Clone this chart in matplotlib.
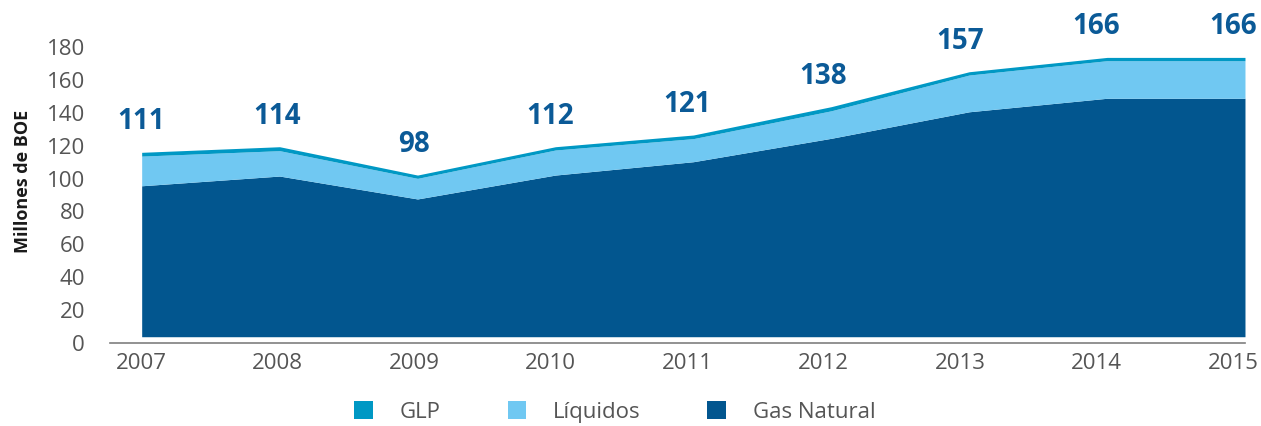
import matplotlib
matplotlib.use("Agg")
import matplotlib.pyplot as plt
from matplotlib.patches import Patch
import numpy as np

plt.rcParams['font.family'] = ['Open Sans', 'DejaVu Sans']

# ---- data ----
years = [2007, 2008, 2009, 2010, 2011, 2012, 2013, 2014, 2015]
gas_natural = [91.6, 97.5, 83.6, 98.1, 106.2, 120.4, 136.5, 144.7, 144.7]
liquidos = [18.0, 15.4, 12.5, 15.2, 14.0, 16.7, 22.3, 22.8, 22.8]
glp = [2.3, 2.4, 2.0, 2.0, 2.2, 2.5, 2.0, 2.0, 2.0]
total_labels = [111, 114, 98, 112, 121, 138, 157, 166, 166]
y_ticks = [0, 20, 40, 60, 80, 100, 120, 140, 160, 180]
series_names = ["GLP", "Líquidos", "Gas Natural"]

# ---- style ----
c_gas = "#02568f"
c_liq = "#70c8f2"
c_glp = "#0098c4"
c_label = "#0b5a97"
c_tick = "#555555"
area_base = 4  # the coloured area sits slightly above the axis line in the original

fig = plt.figure(figsize=(12.61, 4.26), dpi=100)
ax = fig.add_axes([0.0872, 0.1941, 0.9001, 0.6963])

x = np.array(years, dtype=float)
g = np.array(gas_natural)
l = np.array(liquidos)
p = np.array(glp)

b0 = np.full_like(g, area_base)
b1 = b0 + g
b2 = b1 + l
b3 = b2 + p

ax.fill_between(x, b0, b1, color=c_gas, linewidth=0)
ax.fill_between(x, b1, b2, color=c_liq, linewidth=0)
ax.fill_between(x, b2, b3, color=c_glp, linewidth=0)

ax.set_xlim(2006.770, 2015)
ax.set_ylim(0, 180)
ax.set_yticks(y_ticks)
ax.set_yticklabels([str(v) for v in y_ticks])
ax.tick_params(axis='y', length=0, pad=18, labelsize=16, labelcolor=c_tick)
ax.set_xticks([])

for s in ['top', 'right', 'left']:
    ax.spines[s].set_visible(False)
ax.spines['bottom'].set_color("#7f7f7f")
ax.spines['bottom'].set_linewidth(1.2)

ax.set_ylabel("Millones de BOE", fontsize=13, fontweight='bold', color="#1a1a1a")
ax.yaxis.set_label_coords(-0.069, 0.547)

# secondary x axis for category labels (labels are spaced slightly tighter than the area)
ax2 = ax.twiny()
ax2.set_xlim(2006.773, 2015.088)
ax2.xaxis.set_ticks_position('bottom')
ax2.set_xticks(years)
ax2.set_xticklabels([str(y) for y in years])
ax2.tick_params(axis='x', length=0, pad=7, labelsize=16, labelcolor=c_tick)
for s in ['top', 'right', 'left', 'bottom']:
    ax2.spines[s].set_visible(False)

for yr, top, lab in zip(years, b3, total_labels):
    ax2.annotate(str(lab), xy=(yr, top), xytext=(0, 22), textcoords='offset points',
                 ha='center', va='center', fontsize=20, fontweight='bold',
                 color=c_label, annotation_clip=False)

handles = [Patch(facecolor=c_glp, edgecolor='none'),
           Patch(facecolor=c_liq, edgecolor='none'),
           Patch(facecolor=c_gas, edgecolor='none')]
leg = fig.legend(handles, series_names, loc='center', bbox_to_anchor=(0.4877, 0.033),
                 ncol=3, frameon=False, fontsize=16, handlelength=0.85, handleheight=0.85,
                 handletextpad=1.2, columnspacing=3.0)
for t in leg.get_texts():
    t.set_color(c_tick)

fig.savefig("out.png", dpi=100)
